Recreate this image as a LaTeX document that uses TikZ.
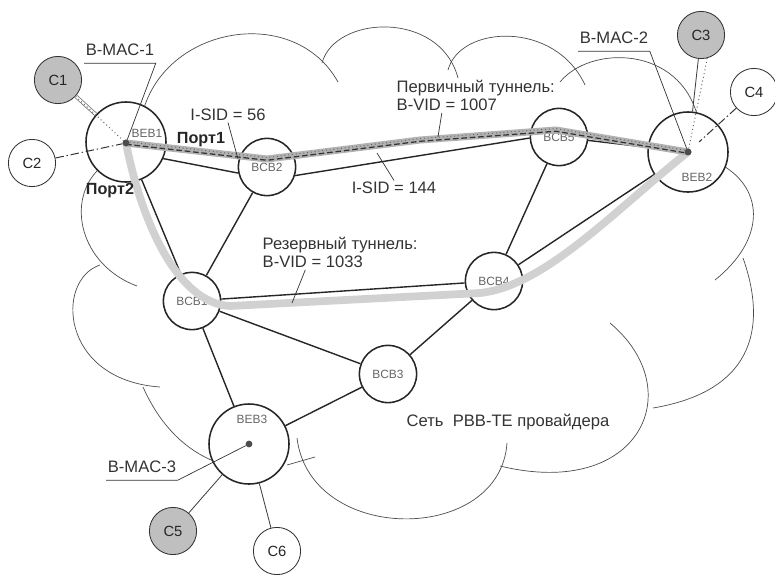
\documentclass[tikz,border=0pt]{standalone}
\usepackage{fontspec}
\setmainfont{Liberation Sans}
\usetikzlibrary{calc}
\tikzset{
  bnode/.style={circle,draw=black!85,line width=1.1pt,fill=white,inner sep=0pt,font=\fontsize{8.5}{9}\selectfont,text=black!60},
  beb/.style={bnode,minimum size=2cm},
  bcb/.style={bnode,minimum size=1.43cm},
  cnode/.style={circle,draw=black!80,line width=0.6pt,fill=white,minimum size=1.18cm,inner sep=0pt,font=\fontsize{10.5}{12}\selectfont,text=black!85},
  cgray/.style={cnode,fill=black!25},
  bdot/.style={circle,fill=black!70,inner sep=0pt,minimum size=0.17cm},
  link/.style={line width=1pt,draw=black!85},
  thin link/.style={line width=0.6pt,draw=black!75},
  cloud line/.style={line width=0.5pt,draw=black!70},
  lbl/.style={font=\fontsize{11.8}{13.5}\selectfont,text=black!80,inner sep=1pt},
  mac/.style={lbl,inner ysep=5pt},
  tag/.style={font=\fontsize{8.5}{9}\selectfont,text=black!60,inner sep=0pt},
  port/.style={font=\bfseries\fontsize{11.5}{13}\selectfont,text=black!85,inner sep=1pt},
  leader/.style={line width=0.5pt,draw=black!80},
  dashdot/.style={line width=0.7pt,draw=black!80,dash pattern=on 6pt off 2pt on 1pt off 2pt},
  backup/.style={line width=5.5pt,draw=black!18},
  primary band/.style={line width=5pt,draw=black!30,line join=round},
  primary dash/.style={line width=0.9pt,draw=black!80,dash pattern=on 4pt off 2pt},
  primary dot/.style={line width=0.7pt,draw=black!60,dotted},
}
\begin{document}
\begin{tikzpicture}[x=0.025cm,y=-0.025cm]

\useasboundingbox (0,0) rectangle (775,574);
\draw[cloud line] (144,108) .. controls (170,25) and (295,5) .. (338,82);
\draw[cloud line] (322,63) .. controls (335,15) and (440,10) .. (458,78);
\draw[cloud line] (448,70) .. controls (460,25) and (555,20) .. (585,85);
\draw[cloud line] (560,82) .. controls (590,45) and (680,45) .. (698,118);
\draw[cloud line] (722,165) .. controls (765,190) and (765,240) .. (715,280);
\draw[cloud line] (743,258) .. controls (765,320) and (760,390) .. (653,408);
\draw[cloud line] (610,323) .. controls (690,390) and (640,500) .. (500,466);
\draw[cloud line] (507,443) .. controls (500,545) and (310,545) .. (297,438);
\draw[cloud line] (287,465) -- (315,457);
\draw[cloud line] (143,387) .. controls (160,425) and (185,450) .. (216,462);
\draw[cloud line] (100,265) .. controls (55,280) and (60,380) .. (160,387);
\draw[cloud line] (100,168) .. controls (65,200) and (80,265) .. (137,286);
\node[beb] (beb1) at (126,142) {};
\node[beb] (beb2) at (688,152) {};
\node[beb] (beb3) at (249,444) {};
\node[bcb] (bcb1) at (192,301) {BCB1};
\node[bcb] (bcb2) at (267,167) {BCB2};
\node[bcb] (bcb3) at (388,374) {BCB3};
\node[bcb] (bcb4) at (494,281) {BCB4};
\node[bcb] (bcb5) at (559,137) {BCB5};
\node[cgray] (c1) at (58,80) {C1};
\node[cnode] (c2) at (32,163) {C2};
\node[cgray] (c3) at (701,35) {C3};
\node[cnode] (c4) at (754,92) {C4};
\node[cgray] (c5) at (173,531) {C5};
\node[cnode] (c6) at (277,551) {C6};
\node[bdot] (m1) at (126,143) {};
\node[bdot] (m2) at (688,152) {};
\node[bdot] (m3) at (249,444) {};
\draw[link] (beb1.-24) -- (bcb2.-168);
\draw[link] (bcb2.-17) -- (bcb5.182);
\draw[link] (bcb5) -- (beb2);
\draw[link] (beb1) -- (bcb1);
\draw[link] (bcb2) -- (bcb1);
\draw[link] (bcb1) -- (bcb4);
\draw[link] (bcb1) -- (bcb3);
\draw[link] (bcb1) -- (beb3);
\draw[link] (beb3) -- (bcb3);
\draw[link] (bcb3) -- (bcb4);
\draw[link] (bcb4) -- (bcb5);
\draw[link] (bcb4) -- (beb2);
\draw[double,double distance=1.6pt,line width=0.5pt,draw=black!60] (c1) -- (beb1);
\draw[primary dot] (c1) -- (m1);
\draw[dashdot] (c2) -- (m1);
\draw[thin link] (c3) -- (beb2);
\draw[primary dot] (c3.-75) -- (m2);
\draw[dashdot,shorten >=8pt] (c4) -- (m2);
\draw[thin link] (c5) -- (beb3);
\draw[thin link] (c6) -- (beb3);
\coordinate (b1) at (230,306);
\coordinate (b2) at (480,293);
\draw[backup] (m1.center) .. controls (140,215) and (175,303) .. (b1) -- (b2) .. controls (545,286) and (615,210) .. (m2.center);
\coordinate (t1) at (267,159);
\coordinate (tm) at (420,140);
\coordinate (t2) at (556,130);
\draw[primary band] (m1.center) -- (t1) -- (tm) -- (t2) -- (m2.center);
\draw[primary dash,transform canvas={yshift=-0.9pt}] (m1.center) -- (t1) -- (tm) -- (t2) -- (m2.center);
\draw[primary dot,transform canvas={yshift=1pt}] (m1.center) -- (t1) -- (tm) -- (t2) -- (m2.center);
\node[bdot] at (m1) {};
\node[bdot] at (m2) {};
\node[tag] (n1) at (147,133) {BEB1};
\node[tag] (n2) at (697,177) {BEB2};
\node[tag] (n3) at (252,419) {BEB3};
\node[mac] (mac1) at (120,50) {B-MAC-1};
\draw[leader] (mac1.south west) -- (mac1.south east) -- (m1);
\node[mac] (mac2) at (614,38) {B-MAC-2};
\draw[leader] (mac2.south west) -- (mac2.south east) -- (m2);
\node[mac] (mac3) at (142,467) {B-MAC-3};
\draw[leader] (mac3.south west) -- (mac3.south east) -- (m3);
\node[lbl] (isid56) at (228,115) {I-SID = 56};
\coordinate (s56) at (238,159);
\draw[leader] (isid56.south) -- (s56);
\node[port] (p1) at (201,140) {Порт1};
\node[port] (p2) at (110,191) {Порт2};
\node[lbl] (isid144) at (394,188) {I-SID = 144};
\coordinate (s144) at (377,153);
\draw[leader] (isid144.north) -- (s144);
\node[lbl,align=left,anchor=north west] (prim) at (395,78) {Первичный туннель:\\B-VID = 1007};
\coordinate (s1007) at (438,137);
\draw[leader] ($(prim.south west)!0.29!(prim.south east)$) -- (s1007);
\node[lbl,align=left,anchor=north west] (back) at (261,235) {Резервный туннель:\\B-VID = 1033};
\coordinate (s1033) at (292,303);
\draw[leader] ($(back.south west)!0.28!(back.south east)$) -- (s1033);
\node[lbl,anchor=west] (net) at (405,422) {Сеть\ \ PBB-TE провайдера};
\end{tikzpicture}
\end{document}
